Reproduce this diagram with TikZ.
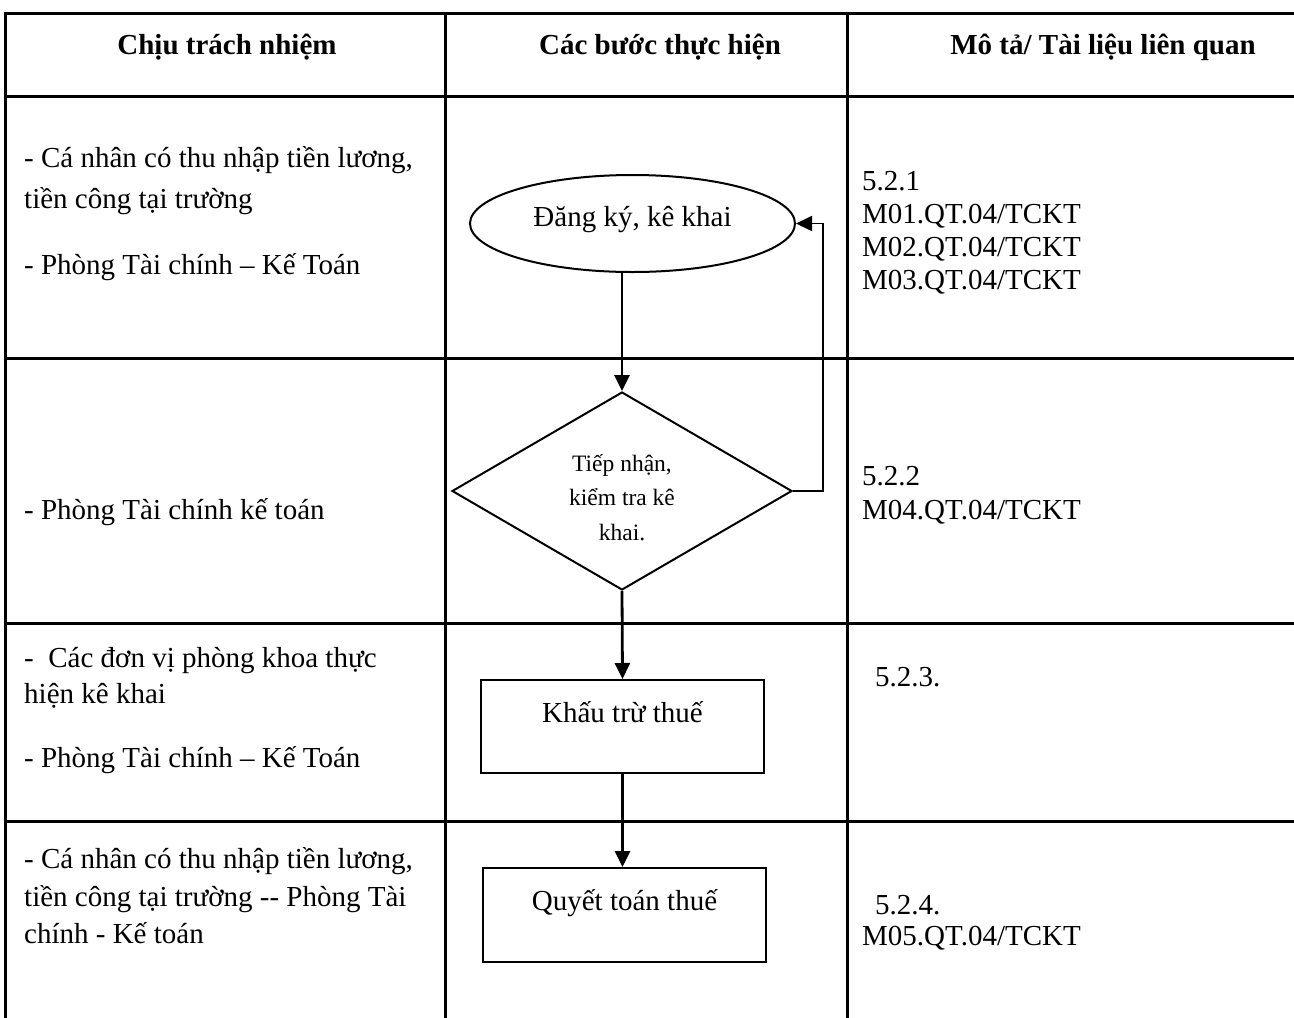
\documentclass[tikz,border=0pt]{standalone}
\usepackage{fontspec}
\setmainfont{Liberation Serif}
\usetikzlibrary{shapes.geometric,arrows.meta}
\begin{document}
\begin{tikzpicture}[x=1pt,y=-1pt,
  tableline/.style={line width=3pt},
  txt/.style={inner sep=0pt,font=\fontsize{29}{33.5}\selectfont,anchor=base west},
  hdr/.style={inner sep=0pt,font=\fontsize{29}{33.5}\selectfont\bfseries,anchor=base},
  stepshape/.style={draw,line width=2pt,inner sep=0pt,font=\fontsize{29}{33.5}\selectfont},
  arr/.style={line width=2.8pt,-{Triangle[length=16pt,width=15pt]}},
  backarr/.style={line width=1.8pt,-{Triangle[length=16pt,width=15pt]}}]
\useasboundingbox (0,0) rectangle (1294,1018);
\fill[white] (0,0) rectangle (1294,1018);

% table
\foreach \yy in {13,96,358,623,821}
  \draw[tableline] (4,\yy) -- (1294,\yy);
\foreach \xx in {5,445,847}
  \draw[tableline] (\xx,11.5) -- (\xx,1018);

% header
\node[hdr] (h1) at (227,54) {Chịu trách nhiệm};
\node[hdr] (h2) at (660,54) {Các bước thực hiện};
\node[hdr] (h3) at (1103,54) {Mô tả/ Tài liệu liên quan};

% left column
\node[txt] (l1a) at (24,167) {- Cá nhân có thu nhập tiền lương,};
\node[txt] (l1b) at (24,208) {tiền công tại trường};
\node[txt] (l1c) at (24,274) {- Phòng Tài chính – Kế Toán};
\node[txt] (l2a) at (24,519) {- Phòng Tài chính kế toán};
\node[txt] (l3a) at (24,667) {-\ \ Các đơn vị phòng khoa thực};
\node[txt] (l3b) at (24,703) {hiện kê khai};
\node[txt] (l3c) at (24,767) {- Phòng Tài chính – Kế Toán};
\node[txt] (l4a) at (24,868) {- Cá nhân có thu nhập tiền lương,};
\node[txt] (l4b) at (24,906) {tiền công tại trường -{}- Phòng Tài};
\node[txt] (l4c) at (24,943) {chính - Kế toán};

% right column
\node[txt] (r1a) at (862,190) {5.2.1};
\node[txt] (r1b) at (862,223) {M01.QT.04/TCKT};
\node[txt] (r1c) at (862,256) {M02.QT.04/TCKT};
\node[txt] (r1d) at (862,289) {M03.QT.04/TCKT};
\node[txt] (r2a) at (862,485) {5.2.2};
\node[txt] (r2b) at (862,519) {M04.QT.04/TCKT};
\node[txt] (r3a) at (875,686) {5.2.3.};
\node[txt] (r4a) at (875,914) {5.2.4.};
\node[txt] (r4b) at (862,945) {M05.QT.04/TCKT};

% flow shapes
\node[stepshape,ellipse,minimum width=325pt,minimum height=97pt] (ell) at (632.5,223.5)
  {\raisebox{14pt}{Đăng ký, kê khai}};
\node[stepshape,diamond,shape aspect=1.72,minimum width=340pt,minimum height=198pt] (dia) at (622,491)
  {\raisebox{-14pt}[0pt][0pt]{\fontsize{23.5}{34.5}\selectfont\begin{tabular}{@{}c@{}}Tiếp nhận,\\kiểm tra kê\\khai.\end{tabular}}};
\node[stepshape,rectangle,minimum width=283pt,minimum height=93pt] (khau) at (622.5,726.5)
  {\raisebox{29pt}{Khấu trừ thuế}};
\node[stepshape,rectangle,minimum width=283pt,minimum height=94pt] (quyet) at (624.5,915)
  {\raisebox{31pt}{Quyết toán thuế}};

% connectors
\coordinate (lc) at (823,491);
\draw[arr] (ell.south -| dia.north) -- (dia.north);
\draw[backarr] (dia.east) -- (lc) |- (ell.east);
\draw[arr] (dia.south) -- (khau.north);
\draw[arr] (khau.south) -- (khau.south |- quyet.north);
\end{tikzpicture}
\end{document}
